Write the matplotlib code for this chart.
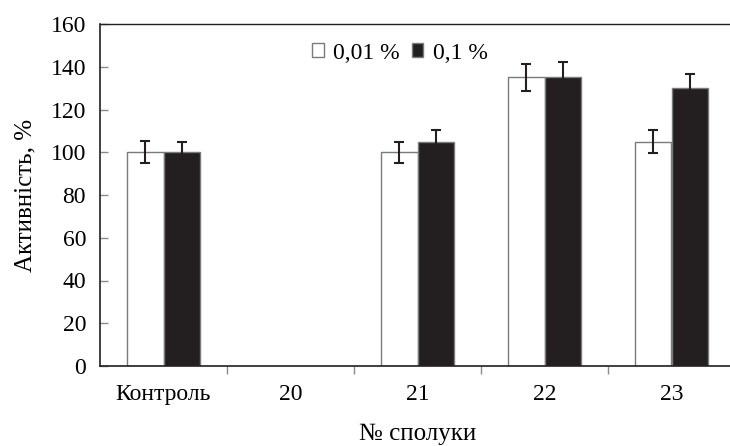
import numpy as np
import matplotlib.pyplot as plt

# Дані
categories = ["Контроль", "20", "21", "22", "23"]
low_vals = [100, 0, 100, 135, 105]    # 0,01 %
high_vals = [100, 0, 105, 135, 130]   # 0,1 %
low_err = [5.2, 0, 5, 6.5, 5.4]
high_err = [5, 0, 5.6, 7, 6.7]
has_data = [True, False, True, True, True]

plt.rcParams['font.family'] = ['Liberation Serif', 'DejaVu Serif']
fs = 17

fig = plt.figure(figsize=(7.3, 4.46), dpi=100)
ax = fig.add_axes([100 / 730, 80 / 446, 635 / 730, 342 / 446])

x = np.arange(len(categories))
w = 0.287
idx = [i for i in x if has_data[i]]

ax.bar(x[idx] - w / 2, [low_vals[i] for i in idx], w, color="white",
       edgecolor="#7a7a7a", linewidth=1.0, label="0,01 %", zorder=2)
ax.bar(x[idx] + w / 2, [high_vals[i] for i in idx], w, color="#231f20",
       edgecolor="#7a7a7a", linewidth=1.0, label="0,1 %", zorder=2)
ax.errorbar(x[idx] - w / 2, [low_vals[i] for i in idx],
            yerr=[low_err[i] for i in idx], fmt="none", ecolor="#231f20",
            elinewidth=1.5, capsize=3.5, capthick=1.5, zorder=3)
ax.errorbar(x[idx] + w / 2, [high_vals[i] for i in idx],
            yerr=[high_err[i] for i in idx], fmt="none", ecolor="#231f20",
            elinewidth=1.5, capsize=3.5, capthick=1.5, zorder=3)

ax.set_xlim(-0.5, 4.5)
ax.set_ylim(0, 160)
ax.set_yticks(range(0, 161, 20))
ax.set_xticks(x)
ax.set_xticklabels(categories)
ax.set_xticks(np.arange(0.5, 4.5, 1), minor=True)
ax.tick_params(axis="x", which="major", length=0, pad=13, labelsize=fs)
ax.tick_params(axis="x", which="minor", length=6, direction="out",
               color="#8a8a8a", width=1)
ax.tick_params(axis="y", length=6, direction="in", color="#8a8a8a",
               width=1, labelsize=fs, pad=10)

ax.spines["right"].set_visible(False)
ax.spines["top"].set_linewidth(1.0)
ax.spines["left"].set_linewidth(1.2)
ax.spines["bottom"].set_linewidth(1.2)
for s in ax.spines.values():
    s.set_color("#231f20")

ax.set_ylabel("Активність, %", fontsize=fs + 1, labelpad=10)
ax.set_xlabel("№ сполуки", fontsize=fs + 1, labelpad=13)

ax.legend(loc="center left", bbox_to_anchor=(0.315, 0.915), ncol=2,
          frameon=False, fontsize=fs, handlelength=0.5, handleheight=0.5,
          handletextpad=0.4, columnspacing=0.5, borderpad=0)

fig.savefig("out.png", dpi=100)
